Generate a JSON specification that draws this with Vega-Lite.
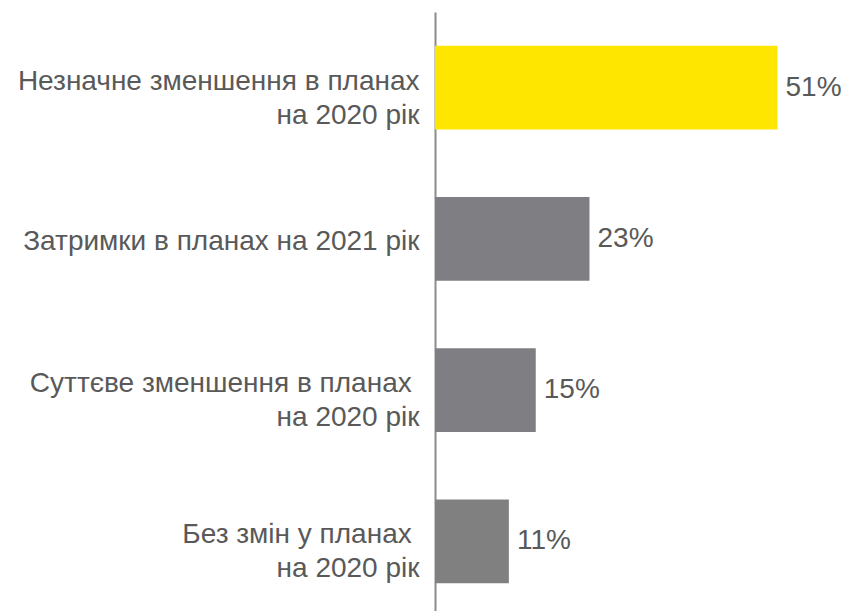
{
  "$schema": "https://vega.github.io/schema/vega-lite/v6.json",
  "width": 403,
  "height": 605,
  "autosize": {"type": "none"},
  "padding": {"left": 435, "top": 12, "right": 11, "bottom": 0},
  "background": "white",
  "config": {"view": {"stroke": null}, "font": "Liberation Sans"},
  "data": {"values": [
    {"label": "Незначне зменшення в планах|на 2020 рік", "value": 0.51, "group": "top"},
    {"label": "Затримки в планах на 2021 рік", "value": 0.23, "group": "a"},
    {"label": "Суттєве зменшення в планах \u200b|на 2020 рік", "value": 0.15, "group": "a"},
    {"label": "Без змін у планах \u200b|на 2020 рік", "value": 0.11, "group": "b"}
  ]},
  "encoding": {
    "y": {
      "field": "label", "type": "nominal", "sort": null,
      "scale": {"paddingInner": 0.445, "paddingOuter": 0.2225},
      "axis": {
        "title": null, "ticks": false, "domainColor": "#8c8c8c", "domainWidth": 2,
        "labelExpr": "split(datum.label, '|')", "labelFontSize": 28, "labelColor": "#595959",
        "labelPadding": 16, "labelLineHeight": 34, "labelFont": "Liberation Sans", "labelLimit": 500,
        "labelOffset": {"condition": {"test": "indexof(datum.value, '|') >= 0", "value": -6}, "value": 3}
      }
    },
    "x": {"field": "value", "type": "quantitative", "scale": {"domain": [0, 0.6]}, "axis": null}
  },
  "layer": [
    {
      "mark": {"type": "bar"},
      "encoding": {
        "color": {"field": "group", "type": "nominal", "legend": null,
          "scale": {"domain": ["top", "a", "b"], "range": ["#FFE600", "#7F7E82", "#808080"]}}
      }
    },
    {
      "mark": {"type": "text", "align": "left", "baseline": "middle", "dx": 8, "fontSize": 28, "color": "#595959", "font": "Liberation Sans"},
      "encoding": {"text": {"field": "value", "type": "quantitative", "format": ".0%"}}
    }
  ]
}
